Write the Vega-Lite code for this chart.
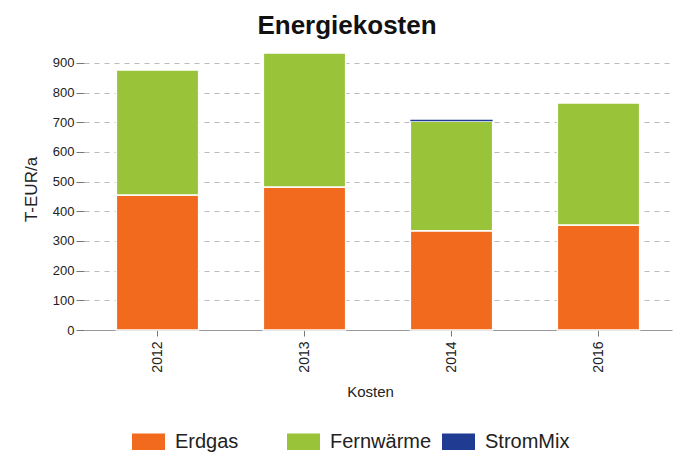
{
  "$schema": "https://vega.github.io/schema/vega-lite/v6.json",
  "width": 588,
  "height": 282,
  "autosize": {"type": "none"},
  "padding": {"left": 84, "top": 48, "right": 6, "bottom": 129},
  "background": "white",
  "config": {
    "font": "Liberation Sans",
    "view": {"stroke": null}
  },
  "title": {
    "text": "Energiekosten",
    "fontSize": 26,
    "fontWeight": "bold",
    "color": "#111111",
    "anchor": "middle",
    "dx": -31,
    "offset": 9
  },
  "data": {
    "values": [
      {"jahr": "2012", "traeger": "Erdgas", "rang": 1, "wert": 455},
      {"jahr": "2012", "traeger": "Fernwärme", "rang": 2, "wert": 421},
      {"jahr": "2012", "traeger": "StromMix", "rang": 3, "wert": 0},
      {"jahr": "2013", "traeger": "Erdgas", "rang": 1, "wert": 482},
      {"jahr": "2013", "traeger": "Fernwärme", "rang": 2, "wert": 451},
      {"jahr": "2013", "traeger": "StromMix", "rang": 3, "wert": 0},
      {"jahr": "2014", "traeger": "Erdgas", "rang": 1, "wert": 334},
      {"jahr": "2014", "traeger": "Fernwärme", "rang": 2, "wert": 369},
      {"jahr": "2014", "traeger": "StromMix", "rang": 3, "wert": 5},
      {"jahr": "2016", "traeger": "Erdgas", "rang": 1, "wert": 354},
      {"jahr": "2016", "traeger": "Fernwärme", "rang": 2, "wert": 411},
      {"jahr": "2016", "traeger": "StromMix", "rang": 3, "wert": 0}
    ]
  },
  "mark": {"type": "bar", "stroke": "#ffffff", "strokeWidth": 1.5},
  "encoding": {
    "x": {
      "field": "jahr",
      "type": "nominal",
      "title": "Kosten",
      "scale": {"paddingInner": 0.44, "paddingOuter": 0.22},
      "axis": {
        "labelAngle": -90,
        "labelFontSize": 14,
        "labelColor": "#222222",
        "labelPadding": 5,
        "titleFontSize": 15,
        "titleFontWeight": "normal",
        "titleColor": "#222222",
        "titlePadding": 12,
        "titleX": 286,
        "domainColor": "#999999",
        "tickColor": "#777777",
        "tickSize": 6
      }
    },
    "y": {
      "field": "wert",
      "type": "quantitative",
      "stack": "zero",
      "title": "T-EUR/a",
      "scale": {"domain": [0, 950], "nice": false},
      "axis": {
        "values": [0, 100, 200, 300, 400, 500, 600, 700, 800, 900],
        "domain": false,
        "labelFontSize": 13,
        "labelColor": "#222222",
        "labelPadding": 2,
        "tickColor": "#777777",
        "tickSize": 8,
        "gridColor": "#bbbbbb",
        "gridDash": [5, 5],
        "titleFontSize": 17,
        "titleFontWeight": "normal",
        "titleColor": "#222222",
        "titlePadding": 12
      }
    },
    "color": {
      "field": "traeger",
      "type": "nominal",
      "title": null,
      "scale": {
        "domain": ["Erdgas", "Fernwärme", "StromMix"],
        "range": ["#f26a1e", "#99c43a", "#1f3c92"]
      },
      "legend": {
        "orient": "none",
        "legendX": 48,
        "legendY": 377,
        "direction": "horizontal",
        "columns": 3,
        "gridAlign": "all",
        "symbolType": "M-1,-0.5H1V0.5H-1Z",
        "symbolSize": 1089,
        "symbolStrokeWidth": 0,
        "labelFontSize": 20,
        "labelColor": "#222222",
        "labelOffset": 10,
        "columnPadding": 10,
        "labelLimit": 200
      }
    },
    "strokeOpacity": {
      "condition": {"test": "datum.traeger === 'StromMix'", "value": 0},
      "value": 1
    },
    "order": {"field": "rang", "type": "quantitative"}
  }
}
